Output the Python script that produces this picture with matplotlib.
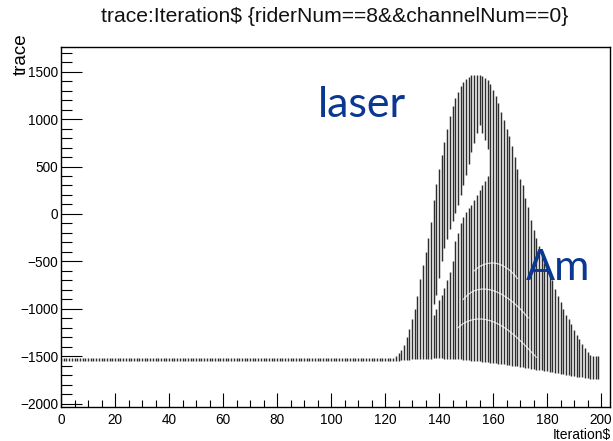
import matplotlib
matplotlib.use("Agg")
import matplotlib.pyplot as plt
from matplotlib.ticker import MultipleLocator, FuncFormatter

# ---------------- data ----------------
title = "trace:Iteration$ {riderNum==8&&channelNum==0}"
xlabel = "Iteration$"
ylabel = "trace"

# baseline region, iterations 0..122 : narrow band of samples
baseline_iters = list(range(0, 123))
baseline_top = [-1520] * 123
baseline_bottom = [-1550] * 123

# pulse region, iterations 123..199 : envelope of all overlaid traces
pulse_iters = list(range(123, 200))
pulse_top = [
    -1515, -1495, -1465, -1430, -1380, -1300, -1210, -1110, -1000, -860,
    -690, -540, -400, -250, -80, 150, 320, 470, 620, 760,
    900, 1030, 1140, 1220, 1290, 1345, 1390, 1425, 1445, 1460,
    1468, 1470, 1465, 1455, 1435, 1410, 1365, 1310, 1240, 1170,
    1080, 990, 900, 820, 720, 600, 470, 370, 300, 170,
    70, -60, -170, -250, -340, -430, -520, -580, -640, -700,
    -790, -860, -930, -1000, -1060, -1110, -1160, -1220, -1280, -1320,
    -1370, -1410, -1450, -1490, -1500, -1500, -1500,
]
pulse_bottom = [
    -1550, -1548, -1545, -1543, -1540, -1538, -1536, -1534, -1532, -1530,
    -1528, -1527, -1526, -1525, -1524, -1523, -1522, -1522, -1523, -1524,
    -1525, -1526, -1528, -1530, -1532, -1534, -1537, -1540, -1543, -1546,
    -1549, -1552, -1555, -1558, -1561, -1564, -1567, -1570, -1574, -1578,
    -1582, -1586, -1590, -1594, -1598, -1602, -1606, -1610, -1615, -1620,
    -1625, -1630, -1635, -1640, -1645, -1650, -1655, -1660, -1665, -1670,
    -1675, -1680, -1685, -1690, -1695, -1700, -1705, -1710, -1715, -1720,
    -1724, -1728, -1732, -1736, -1740, -1742, -1744,
]

# empty (no-trace) gap between laser and Am populations
gap_iters = [138, 139, 140, 141, 142, 143, 144, 145, 146, 147, 148,
             149, 150, 151, 152, 153, 154, 155, 156, 157, 158]
gap_low = [-1068, -1000, -910, -850, -780, -700, -610, -500, -290, -200, -100,
           -30, 20, 60, 90, 150, 200, 250, 300, 350, 400]
gap_high = [-950, -850, -670, -500, -360, -260, -160, -70, 5, 95, 200,
            300, 410, 530, 650, 750, 850, 940, 850, 780, 690]

# sparse (light) Am trace bands crossing the bars
am_a_iters = list(range(153, 170))
am_a = [-600, -575, -555, -540, -530, -522, -518, -517, -520, -527, -538,
        -552, -570, -590, -615, -645, -680]
am_b_iters = list(range(149, 174))
am_b = [-900, -870, -845, -825, -810, -800, -795, -792, -792, -795, -800,
        -808, -818, -830, -845, -862, -880, -900, -922, -946, -972, -1000,
        -1030, -1062, -1095]
am_c_iters = list(range(147, 177))
am_c = [-1200, -1175, -1155, -1140, -1128, -1118, -1112, -1108, -1107, -1108,
        -1112, -1118, -1126, -1136, -1148, -1162, -1178, -1195, -1214, -1235,
        -1258, -1282, -1308, -1335, -1362, -1390, -1420, -1450, -1480, -1510]

annotations = ["laser", "Am"]

# ---------------- figure ----------------
W, H = 613, 441
fig = plt.figure(figsize=(W / 100, H / 100), dpi=100)
ax = fig.add_axes([61 / W, 1 - 407 / H, (610 - 61) / W, (407 - 47) / H])

bar_color = "#2e2e2e"
lw = 1.05

ax.vlines(baseline_iters, baseline_bottom, baseline_top, colors=bar_color, lw=lw)

gap_map = {i: (lo, hi) for i, lo, hi in zip(gap_iters, gap_low, gap_high)}
segx, seglo, seghi = [], [], []
for i, t, b in zip(pulse_iters, pulse_top, pulse_bottom):
    if i in gap_map:
        lo, hi = gap_map[i]
        segx += [i, i]
        seglo += [b, hi]
        seghi += [lo, t]
    else:
        segx.append(i)
        seglo.append(b)
        seghi.append(t)
ax.vlines(segx, seglo, seghi, colors=bar_color, lw=lw)

for xs, ys in [(am_a_iters, am_a), (am_b_iters, am_b), (am_c_iters, am_c)]:
    ax.plot(xs, ys, color="white", lw=0.9, alpha=0.75)

ax.set_xlim(0, 203.3)
ax.set_ylim(-2035, 1760)

font = "Liberation Sans"
ax.xaxis.set_major_locator(MultipleLocator(20))
ax.xaxis.set_minor_locator(MultipleLocator(5))
ax.yaxis.set_major_locator(MultipleLocator(500))
ax.yaxis.set_minor_locator(MultipleLocator(100))
ax.tick_params(axis="both", which="both", direction="in", top=False, right=False,
               labelsize=9.8, width=0.8, colors="black")
ax.tick_params(axis="y", which="major", length=15)
ax.tick_params(axis="y", which="minor", length=8)
ax.tick_params(axis="x", which="major", length=10)
ax.tick_params(axis="x", which="minor", length=5)
ax.yaxis.set_major_formatter(FuncFormatter(
    lambda v, p: ("\u2212%d" % abs(v)) if v < 0 else "%d" % v))
for lab in ax.get_xticklabels() + ax.get_yticklabels():
    lab.set_fontfamily(font)
ax.tick_params(axis="x", pad=4)
ax.tick_params(axis="y", pad=2)
for s in ax.spines.values():
    s.set_linewidth(1.0)

fig.text(335 / W, 1 - 16 / H, title, ha="center", va="center",
         fontsize=15.2, family=font, color="#111111")
fig.text(611 / W, 1 - 435 / H, xlabel, ha="right", va="center",
         fontsize=10, family=font)
fig.text(21 / W, 1 - 33 / H, ylabel, ha="center", va="top", rotation=90,
         fontsize=13.5, family=font)

ann_color = "#0a3791"
ax.text(111.5, 1150, annotations[0], fontsize=31, family="Lato", color=ann_color,
        ha="center", va="center")
ax.text(184, -570, annotations[1], fontsize=31, family="Lato", color=ann_color,
        ha="center", va="center")

fig.savefig("out.png", dpi=100, facecolor="white")
